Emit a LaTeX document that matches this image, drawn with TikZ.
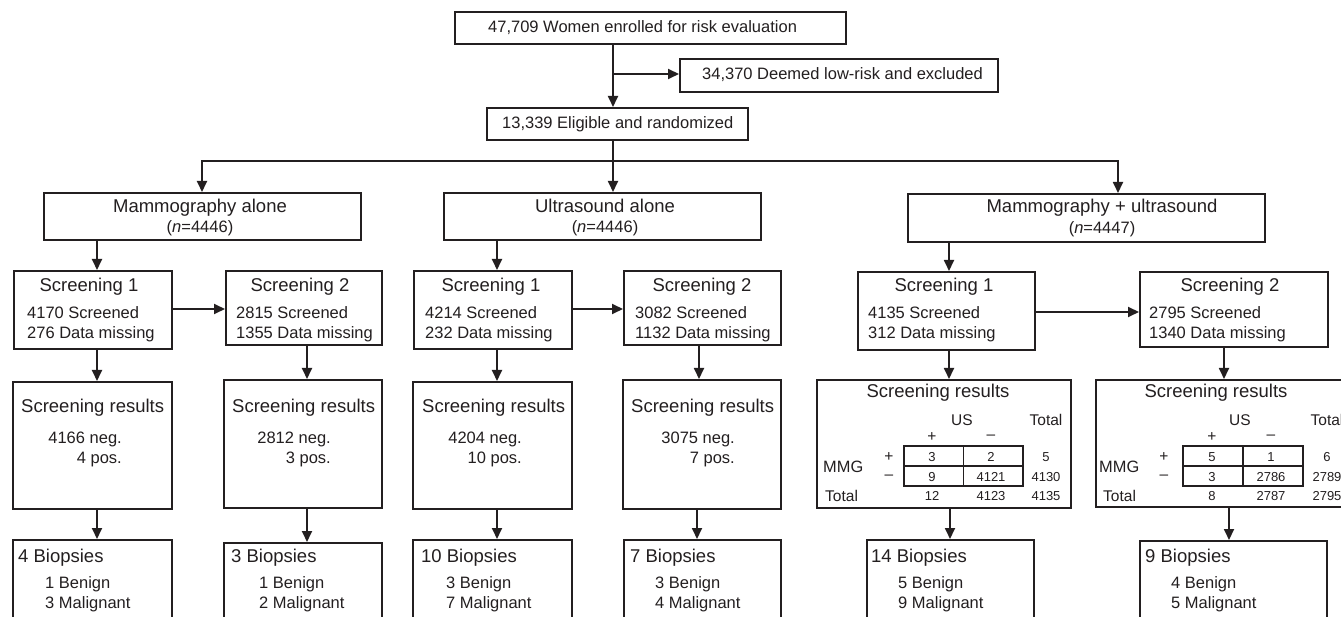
\documentclass[tikz,border=0pt]{standalone}
\usepackage{fontspec}
\setmainfont{Liberation Sans}
\usetikzlibrary{arrows.meta}
\definecolor{ink}{RGB}{35,31,32}
\newcommand\fH{\fontsize{18.5}{22}\selectfont}
\newcommand\fT{\fontsize{16.5}{20}\selectfont}
\newcommand\fL{\fontsize{15.5}{18}\selectfont}
\newcommand\fM{\fontsize{16.4}{19}\selectfont}
\newcommand\fN{\fontsize{13}{15}\selectfont}
\newcommand\mybox[5]{\node[box, minimum width={#4pt-#2pt}, minimum height={#5pt-#3pt}] (#1) at (#2,#3) {};}
\begin{document}
\begin{tikzpicture}[x=1pt,y=-1pt,
 box/.style={draw=ink, line width=1.8pt, inner sep=0pt, anchor=north west},
 tbl/.style={draw=ink, line width=1.5pt, inner sep=0pt, anchor=north west},
 tline/.style={draw=ink, line width=1.5pt},
 ln/.style={draw=ink, line width=1.8pt},
 arr/.style={draw=ink, line width=1.8pt, -{Triangle[length=11pt,width=10pt]}},
 hd/.style={font=\fH, text=ink, inner sep=0pt},
 tx/.style={font=\fT, text=ink, inner sep=0pt},
 lb/.style={font=\fL, text=ink, inner sep=0pt, anchor=base},
 sg/.style={font=\fL, text=ink, inner sep=0pt, anchor=center},
 mm/.style={font=\fM, text=ink, inner sep=0pt, anchor=base west},
 nm/.style={font=\fN, text=ink, inner sep=0pt, anchor=base}]
\useasboundingbox (0,0) rectangle (1341,617);
\clip (0,0) rectangle (1341,617);
\fill[white] (0,0) rectangle (1341,617);

% ---------- boxes ----------
\mybox{top}{454}{11}{845}{43}
\mybox{excl}{679}{58}{997}{91}
\mybox{elig}{486}{107}{747}{139}
\mybox{ma}{43}{192}{360}{239}
\mybox{us}{443}{192}{760}{239}
\mybox{mu}{907}{193}{1264}{241}
\mybox{s1a}{13}{270}{171}{348}
\mybox{s2a}{225}{270}{381}{344}
\mybox{s1u}{413}{270}{571}{348}
\mybox{s2u}{623}{270}{780}{344}
\mybox{s1m}{857}{271}{1034}{349}
\mybox{s2m}{1139}{271}{1327}{346}
\mybox{ra}{12}{381}{171}{508}
\mybox{r2a}{223}{379}{381}{507}
\mybox{ru}{412}{381}{571}{508}
\mybox{r2u}{622}{379}{780}{508}
\mybox{rm}{816}{379}{1070}{507}
\mybox{r2m}{1095}{379}{1352}{506}
\mybox{ba}{12}{539}{171}{640}
\mybox{b2a}{223}{542}{381}{640}
\mybox{bu}{412}{539}{571}{640}
\mybox{b2u}{623}{539}{780}{640}
\mybox{bm}{866}{539}{1033}{640}
\mybox{b2m}{1139}{540}{1326}{640}

% ---------- top texts ----------
\node[tx, anchor=base west] (t1) at (488,33) {47,709 Women enrolled for risk evaluation};
\node[tx, anchor=base west] (t2) at (702,80) {34,370 Deemed low-risk and excluded};
\node[tx, anchor=base west] (t3) at (502,129) {13,339 Eligible and randomized};

% ---------- arm boxes ----------
\node[hd, anchor=base] (t4) at (200,213) {Mammography alone};
\node[tx, anchor=base] (t5) at (200,233) {(\textit{n}=4446)};
\node[hd, anchor=base] (t6) at (605,213) {Ultrasound alone};
\node[tx, anchor=base] (t7) at (605,233) {(\textit{n}=4446)};
\node[hd, anchor=base] (t8) at (1102,213) {Mammography + ultrasound};
\node[tx, anchor=base] (t9) at (1102,234) {(\textit{n}=4447)};

% ---------- screening boxes ----------
\node[hd, anchor=base] (sa1h) at (89,292) {Screening 1};
\node[tx, anchor=base west] (sa1a) at (27,319) {4170 Screened};
\node[tx, anchor=base west] (sa1b) at (27,339) {276 Data missing};
\node[hd, anchor=base] (sa2h) at (300,292) {Screening 2};
\node[tx, anchor=base west] (sa2a) at (236,319) {2815 Screened};
\node[tx, anchor=base west] (sa2b) at (236,339) {1355 Data missing};
\node[hd, anchor=base] (su1h) at (491,292) {Screening 1};
\node[tx, anchor=base west] (su1a) at (425,319) {4214 Screened};
\node[tx, anchor=base west] (su1b) at (425,339) {232 Data missing};
\node[hd, anchor=base] (su2h) at (702,292) {Screening 2};
\node[tx, anchor=base west] (su2a) at (635,319) {3082 Screened};
\node[tx, anchor=base west] (su2b) at (635,339) {1132 Data missing};
\node[hd, anchor=base] (sm1h) at (944,292) {Screening 1};
\node[tx, anchor=base west] (sm1a) at (868,319) {4135 Screened};
\node[tx, anchor=base west] (sm1b) at (868,339) {312 Data missing};
\node[hd, anchor=base] (sm2h) at (1230,292) {Screening 2};
\node[tx, anchor=base west] (sm2a) at (1149,319) {2795 Screened};
\node[tx, anchor=base west] (sm2b) at (1149,339) {1340 Data missing};

% ---------- screening results (simple) ----------
\node[hd, anchor=base west] (ra0) at (21,412) {Screening results};
\node[tx, anchor=base east] (ra1) at (122,443) {4166 neg.};
\node[tx, anchor=base east] (ra2) at (122,463) {4 pos.};
\node[hd, anchor=base west] (r2a0) at (232,412) {Screening results};
\node[tx, anchor=base east] (r2a1) at (331,443) {2812 neg.};
\node[tx, anchor=base east] (r2a2) at (331,463) {3 pos.};
\node[hd, anchor=base west] (ru0) at (422,412) {Screening results};
\node[tx, anchor=base east] (ru1) at (522,443) {4204 neg.};
\node[tx, anchor=base east] (ru2) at (522,463) {10 pos.};
\node[hd, anchor=base west] (r2u0) at (631,412) {Screening results};
\node[tx, anchor=base east] (r2u1) at (735,443) {3075 neg.};
\node[tx, anchor=base east] (r2u2) at (735,463) {7 pos.};

% ---------- screening results tables ----------
\node[hd, anchor=base] (rm0) at (938,398) {Screening results};
\node[tbl, minimum width=119pt, minimum height=40pt] (tb1) at (903,445) {};
\draw[tline] (tb1.north) -- (tb1.south);
\draw[tline] (tb1.west) -- (tb1.east);
\node[lb] (rmus) at (962,425) {US};
\node[lb] (rmto) at (1046,425) {Total};
\node[sg] (rmcp) at (932,437) {+};
\node[sg] (rmcm) at (991,437) {–};
\node[sg] (rmrp) at (889,457) {+};
\node[sg] (rmrm) at (889,477) {–};
\node[mm] (rmmg) at (823,472) {MMG};
\node[font=\fL, text=ink, inner sep=0pt, anchor=base west] (rmtl) at (825,501) {Total};
\node[nm] (rm11) at (932,461.5) {3};
\node[nm] (rm12) at (991,461.5) {2};
\node[nm] (rm13) at (1046,461.5) {5};
\node[nm] (rm21) at (932,481.5) {9};
\node[nm] (rm22) at (991,481.5) {4121};
\node[nm] (rm23) at (1046,481.5) {4130};
\node[nm] (rm31) at (932,500.5) {12};
\node[nm] (rm32) at (991,500.5) {4123};
\node[nm] (rm33) at (1046,500.5) {4135};

\node[hd, anchor=base] (r2m0) at (1216,398) {Screening results};
\node[tbl, minimum width=120pt, minimum height=40pt] (tb2) at (1182,445) {};
\draw[tline] (tb2.north) -- (tb2.south);
\draw[tline] (tb2.west) -- (tb2.east);
\node[lb] (r2mus) at (1240,425) {US};
\node[lb] (r2mto) at (1327,425) {Total};
\node[sg] (r2mcp) at (1212,437) {+};
\node[sg] (r2mcm) at (1271,437) {–};
\node[sg] (r2mrp) at (1164,457) {+};
\node[sg] (r2mrm) at (1164,477) {–};
\node[mm] (r2mmg) at (1099,472) {MMG};
\node[font=\fL, text=ink, inner sep=0pt, anchor=base west] (r2mtl) at (1103,501) {Total};
\node[nm] (r2m11) at (1212,461.5) {5};
\node[nm] (r2m12) at (1271,461.5) {1};
\node[nm] (r2m13) at (1327,461.5) {6};
\node[nm] (r2m21) at (1212,481.5) {3};
\node[nm] (r2m22) at (1271,481.5) {2786};
\node[nm] (r2m23) at (1327,481.5) {2789};
\node[nm] (r2m31) at (1212,500.5) {8};
\node[nm] (r2m32) at (1271,500.5) {2787};
\node[nm] (r2m33) at (1327,500.5) {2795};

% ---------- biopsies ----------
\node[hd, anchor=base west] (ba0) at (18,562) {4 Biopsies};
\node[tx, anchor=base west] (ba1) at (45,588) {1 Benign};
\node[tx, anchor=base west] (ba2) at (45,608) {3 Malignant};
\node[hd, anchor=base west] (b2a0) at (231,562) {3 Biopsies};
\node[tx, anchor=base west] (b2a1) at (259,588) {1 Benign};
\node[tx, anchor=base west] (b2a2) at (259,608) {2 Malignant};
\node[hd, anchor=base west] (bu0) at (421,562) {10 Biopsies};
\node[tx, anchor=base west] (bu1) at (446,588) {3 Benign};
\node[tx, anchor=base west] (bu2) at (446,608) {7 Malignant};
\node[hd, anchor=base west] (b2u0) at (630,562) {7 Biopsies};
\node[tx, anchor=base west] (b2u1) at (655,588) {3 Benign};
\node[tx, anchor=base west] (b2u2) at (655,608) {4 Malignant};
\node[hd, anchor=base west] (bm0) at (871,562) {14 Biopsies};
\node[tx, anchor=base west] (bm1) at (898,588) {5 Benign};
\node[tx, anchor=base west] (bm2) at (898,608) {9 Malignant};
\node[hd, anchor=base west] (b2m0) at (1145,562) {9 Biopsies};
\node[tx, anchor=base west] (b2m1) at (1171,588) {4 Benign};
\node[tx, anchor=base west] (b2m2) at (1171,608) {5 Malignant};

% ---------- connectors ----------
\coordinate (brk) at (613,74);
\coordinate (jl) at (202,161);
\coordinate (jm) at (613,161);
\coordinate (jr) at (1118,161);
\draw[arr] (613,0 |- top.south) -- (613,0 |- elig.north);
\draw[arr] (brk) -- (excl.west |- brk);
\draw[ln] (jm |- elig.south) -- (jm);
\draw[ln, line cap=rect] (jl) -- (jr);
\draw[arr] (jl) -- (jl |- ma.north);
\draw[arr] (jm) -- (jm |- us.north);
\draw[arr] (jr) -- (jr |- mu.north);

\draw[arr] (97,0 |- ma.south) -- (97,0 |- s1a.north);
\draw[arr] (97,0 |- s1a.south) -- (97,0 |- ra.north);
\draw[arr] (97,0 |- ra.south) -- (97,0 |- ba.north);
\draw[arr] (s1a.east |- 0,309) -- (s2a.west |- 0,309);
\draw[arr] (307,0 |- s2a.south) -- (307,0 |- r2a.north);
\draw[arr] (307,0 |- r2a.south) -- (307,0 |- b2a.north);

\draw[arr] (497,0 |- us.south) -- (497,0 |- s1u.north);
\draw[arr] (497,0 |- s1u.south) -- (497,0 |- ru.north);
\draw[arr] (497,0 |- ru.south) -- (497,0 |- bu.north);
\draw[arr] (s1u.east |- 0,309) -- (s2u.west |- 0,309);
\draw[arr] (699,0 |- s2u.south) -- (699,0 |- r2u.north);
\draw[arr] (697,0 |- r2u.south) -- (697,0 |- b2u.north);

\draw[arr] (949,0 |- mu.south) -- (949,0 |- s1m.north);
\draw[arr] (949,0 |- s1m.south) -- (949,0 |- rm.north);
\draw[arr] (950,0 |- rm.south) -- (950,0 |- bm.north);
\draw[arr] (s1m.east |- 0,312) -- (s2m.west |- 0,312);
\draw[arr] (1224,0 |- s2m.south) -- (1224,0 |- r2m.north);
\draw[arr] (1229,0 |- r2m.south) -- (1229,0 |- b2m.north);
\end{tikzpicture}
\end{document}
